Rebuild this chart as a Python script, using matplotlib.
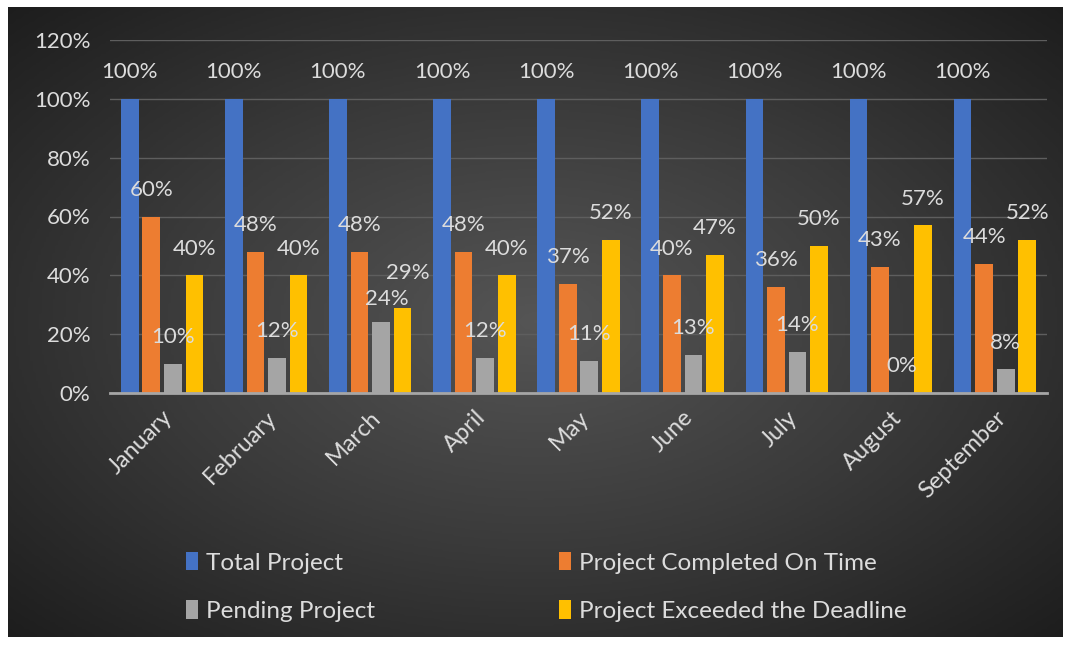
import numpy as np
import matplotlib.pyplot as plt
from matplotlib.colors import LinearSegmentedColormap

# Data
months = ['January', 'February', 'March', 'April', 'May', 'June', 'July', 'August', 'September']
total = [1.00, 1.00, 1.00, 1.00, 1.00, 1.00, 1.00, 1.00, 1.00]
on_time = [0.60, 0.48, 0.48, 0.48, 0.37, 0.40, 0.36, 0.43, 0.44]
pending = [0.10, 0.12, 0.24, 0.12, 0.11, 0.13, 0.14, 0.00, 0.08]
exceeded = [0.40, 0.40, 0.29, 0.40, 0.52, 0.47, 0.50, 0.57, 0.52]

series = [
    ('Total Project', total, '#4472C4'),
    ('Project Completed On Time', on_time, '#ED7D31'),
    ('Pending Project', pending, '#A5A5A5'),
    ('Project Exceeded the Deadline', exceeded, '#FFC000'),
]

plt.rcParams['font.family'] = ['Lato', 'DejaVu Sans']
txt = '#dcdcdc'
fs = 16

fig = plt.figure(figsize=(10.71, 6.46), dpi=100, facecolor='white')

# dark radial gradient background
bg = fig.add_axes([8/1071, 1 - 637/646, 1055/1071, 630/646])
gx, gy = np.meshgrid(np.linspace(-1, 1, 400), np.linspace(-1, 1, 250))
r = np.sqrt(gx ** 2 + gy ** 2)
cmap = LinearSegmentedColormap.from_list('bg', ['#555555', '#3a3a3a', '#1c1c1c'])
bg.imshow(r, cmap=cmap, aspect='auto', vmin=0, vmax=1.45, extent=[0, 1, 0, 1])
bg.axis('off')

ax = fig.add_axes([110/1071, 1 - 393/646, 937/1071, 353/646])
ax.patch.set_alpha(0)

x = np.arange(len(months))
step = 0.207
width = 0.17
bars = []
for i, (name, vals, color) in enumerate(series):
    pos = x + (i - 1.5) * step
    bars.append(ax.bar(pos, vals, width, color=color, label=name, zorder=3))
    for j, (px, v) in enumerate(zip(pos, vals)):
        dx, dy = 0, 12
        if months[j] == 'March' and i == 2:
            dx, dy = 4, 10
        if months[j] == 'March' and i == 3:
            dx, dy = 4, 18
        ax.annotate(f'{v:.0%}', (px, v), textcoords='offset points', xytext=(dx, dy),
                    ha='center', va='bottom', color=txt, fontsize=fs, zorder=4)

ax.set_xlim(-0.5, len(months) - 0.5)
ax.set_ylim(0, 1.2)
ticks = np.arange(0, 1.21, 0.2)
ax.set_yticks(ticks)
ax.set_yticklabels([f'{int(round(t * 100))}%' for t in ticks])
ax.grid(axis='y', color='#5e5e5e', linewidth=1, zorder=0)
ax.set_xticks(x)
ax.set_xticklabels(months, rotation=45, ha='right', rotation_mode='anchor')
ax.tick_params(axis='both', length=0, colors=txt, labelsize=fs)
ax.tick_params(axis='x', labelsize=17, pad=10)
ax.tick_params(axis='y', pad=14)
for s in ['top', 'right', 'left']:
    ax.spines[s].set_visible(False)
ax.spines['bottom'].set_color('#a6a6a6')
ax.spines['bottom'].set_linewidth(2)
ax.spines['bottom'].set_zorder(5)

# legend in row order: Total, Completed / Pending, Exceeded
order = [0, 2, 1, 3]
fig.legend([bars[k] for k in order], [series[k][0] for k in order],
           loc='center', bbox_to_anchor=(0.51, 1 - 587/646), ncol=2, frameon=False,
           fontsize=17.5, labelcolor=txt, handlelength=0.5, handleheight=0.8,
           handletextpad=0.3, columnspacing=7.6, labelspacing=1.1)

fig.savefig('out.png', dpi=100, facecolor=fig.get_facecolor())
